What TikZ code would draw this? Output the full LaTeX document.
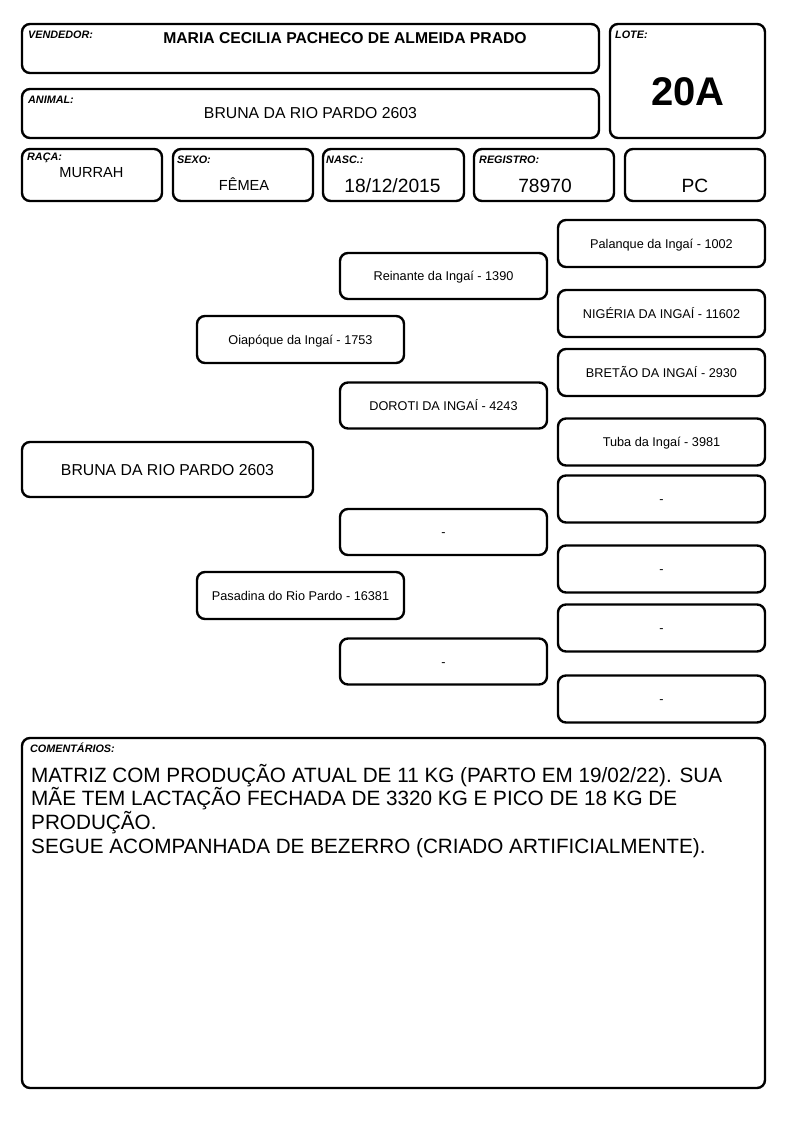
\documentclass[tikz,border=0pt]{standalone}
\usepackage{fontspec}
\setmainfont{Liberation Sans}
\begin{document}
\begin{tikzpicture}[x=1pt,y=-1pt,
  box/.style={draw=black,line width=2.4pt,rounded corners=8pt,rectangle,inner sep=0pt},
  lbl/.style={anchor=west,inner sep=0pt,font=\fontsize{10.8}{12}\selectfont\bfseries\itshape},
  val/.style={inner sep=0pt,font=\fontsize{14.6}{18}\selectfont},
  bigval/.style={inner sep=0pt,font=\fontsize{19.2}{22}\selectfont},
  ped/.style={box,minimum width=207pt,minimum height=47pt,text height=9.1pt,text depth=0pt,font=\fontsize{12.7}{15}\selectfont}]
\useasboundingbox (0,0) rectangle (794,1123);
% header boxes
\node[box,minimum width=577pt,minimum height=49pt] (vend) at (310.5,48.5) {};
\node[lbl] (vendl) at (28,35) {VENDEDOR:};
\node[inner sep=0pt,font=\fontsize{15.7}{18}\selectfont\bfseries] (vendv) at (345,38) {MARIA CECILIA PACHECO DE ALMEIDA PRADO};
\node[box,minimum width=577pt,minimum height=49pt] (anim) at (310.5,113.5) {};
\node[lbl] (animl) at (28,100) {ANIMAL:};
\node[inner sep=0pt,font=\fontsize{15.8}{18}\selectfont] (animv) at (310.5,113) {BRUNA DA RIO PARDO 2603};
\node[box,minimum width=155pt,minimum height=114pt] (lote) at (687.5,81) {};
\node[lbl] (lotel) at (615,35) {LOTE:};
\node[inner sep=0pt,font=\fontsize{40}{44}\selectfont\bfseries] (lotev) at (688,92) {20A};
\node[box,minimum width=140pt,minimum height=52pt] (raca) at (92,175) {};
\node[lbl] (racal) at (27,158) {RAÇA:};
\node[val] (racav) at (91.5,173) {MURRAH};
\node[box,minimum width=140pt,minimum height=52pt] (sexo) at (243,175) {};
\node[lbl] (sexol) at (177,160) {SEXO:};
\node[val] (sexov) at (244,184) {FÊMEA};
\node[box,minimum width=141pt,minimum height=52pt] (nasc) at (393.5,175) {};
\node[lbl] (nascl) at (326,160) {NASC.:};
\node[bigval] (nascv) at (392.5,186) {18/12/2015};
\node[box,minimum width=140pt,minimum height=52pt] (reg) at (544,175) {};
\node[lbl] (regl) at (479,160) {REGISTRO:};
\node[bigval] (regv) at (545,186) {78970};
\node[box,minimum width=140pt,minimum height=52pt] (pc) at (695,175) {};
\node[bigval] (pcv) at (695,186) {PC};
% pedigree
\node[box,minimum width=291pt,minimum height=55pt,text height=11.3pt,text depth=0pt,font=\fontsize{15.8}{18}\selectfont] (main) at (167.5,469.5) {BRUNA DA RIO PARDO 2603};
\node[ped] (s) at (300.5,339.5) {Oiapóque da Ingaí - 1753};
\node[ped] (d) at (300.5,595.5) {Pasadina do Rio Pardo - 16381};
\node[ped,minimum height=46pt] (ss) at (443.5,276) {Reinante da Ingaí - 1390};
\node[ped,minimum height=46pt] (sd) at (443.5,405.5) {DOROTI DA INGAÍ - 4243};
\node[ped,minimum height=46pt] (ds) at (443.5,532) {-};
\node[ped,minimum height=46pt] (dd) at (443.5,661.5) {-};
\node[ped] (sss) at (661.5,243.5) {Palanque da Ingaí - 1002};
\node[ped] (ssd) at (661.5,313.5) {NIGÉRIA DA INGAÍ - 11602};
\node[ped] (sds) at (661.5,372.5) {BRETÃO DA INGAÍ - 2930};
\node[ped] (sdd) at (661.5,442) {Tuba da Ingaí - 3981};
\node[ped] (dss) at (661.5,499) {-};
\node[ped] (dsd) at (661.5,569) {-};
\node[ped] (dds) at (661.5,628) {-};
\node[ped] (ddd) at (661.5,699) {-};
% comments
\node[box,minimum width=743pt,minimum height=350pt] (com) at (393.5,913) {};
\node[lbl] (coml) at (30,748) {COMENTÁRIOS:};
\node[anchor=north west,inner sep=0pt,align=left,font=\fontsize{20.7}{23.6}\selectfont] (comv) at (31,764) {MATRIZ COM PRODUÇÃO ATUAL DE 11 KG (PARTO EM 19/02/22). SUA\\MÃE TEM LACTAÇÃO FECHADA DE 3320 KG E PICO DE 18 KG DE\\PRODUÇÃO.\\SEGUE ACOMPANHADA DE BEZERRO (CRIADO ARTIFICIALMENTE).};
\end{tikzpicture}
\end{document}
